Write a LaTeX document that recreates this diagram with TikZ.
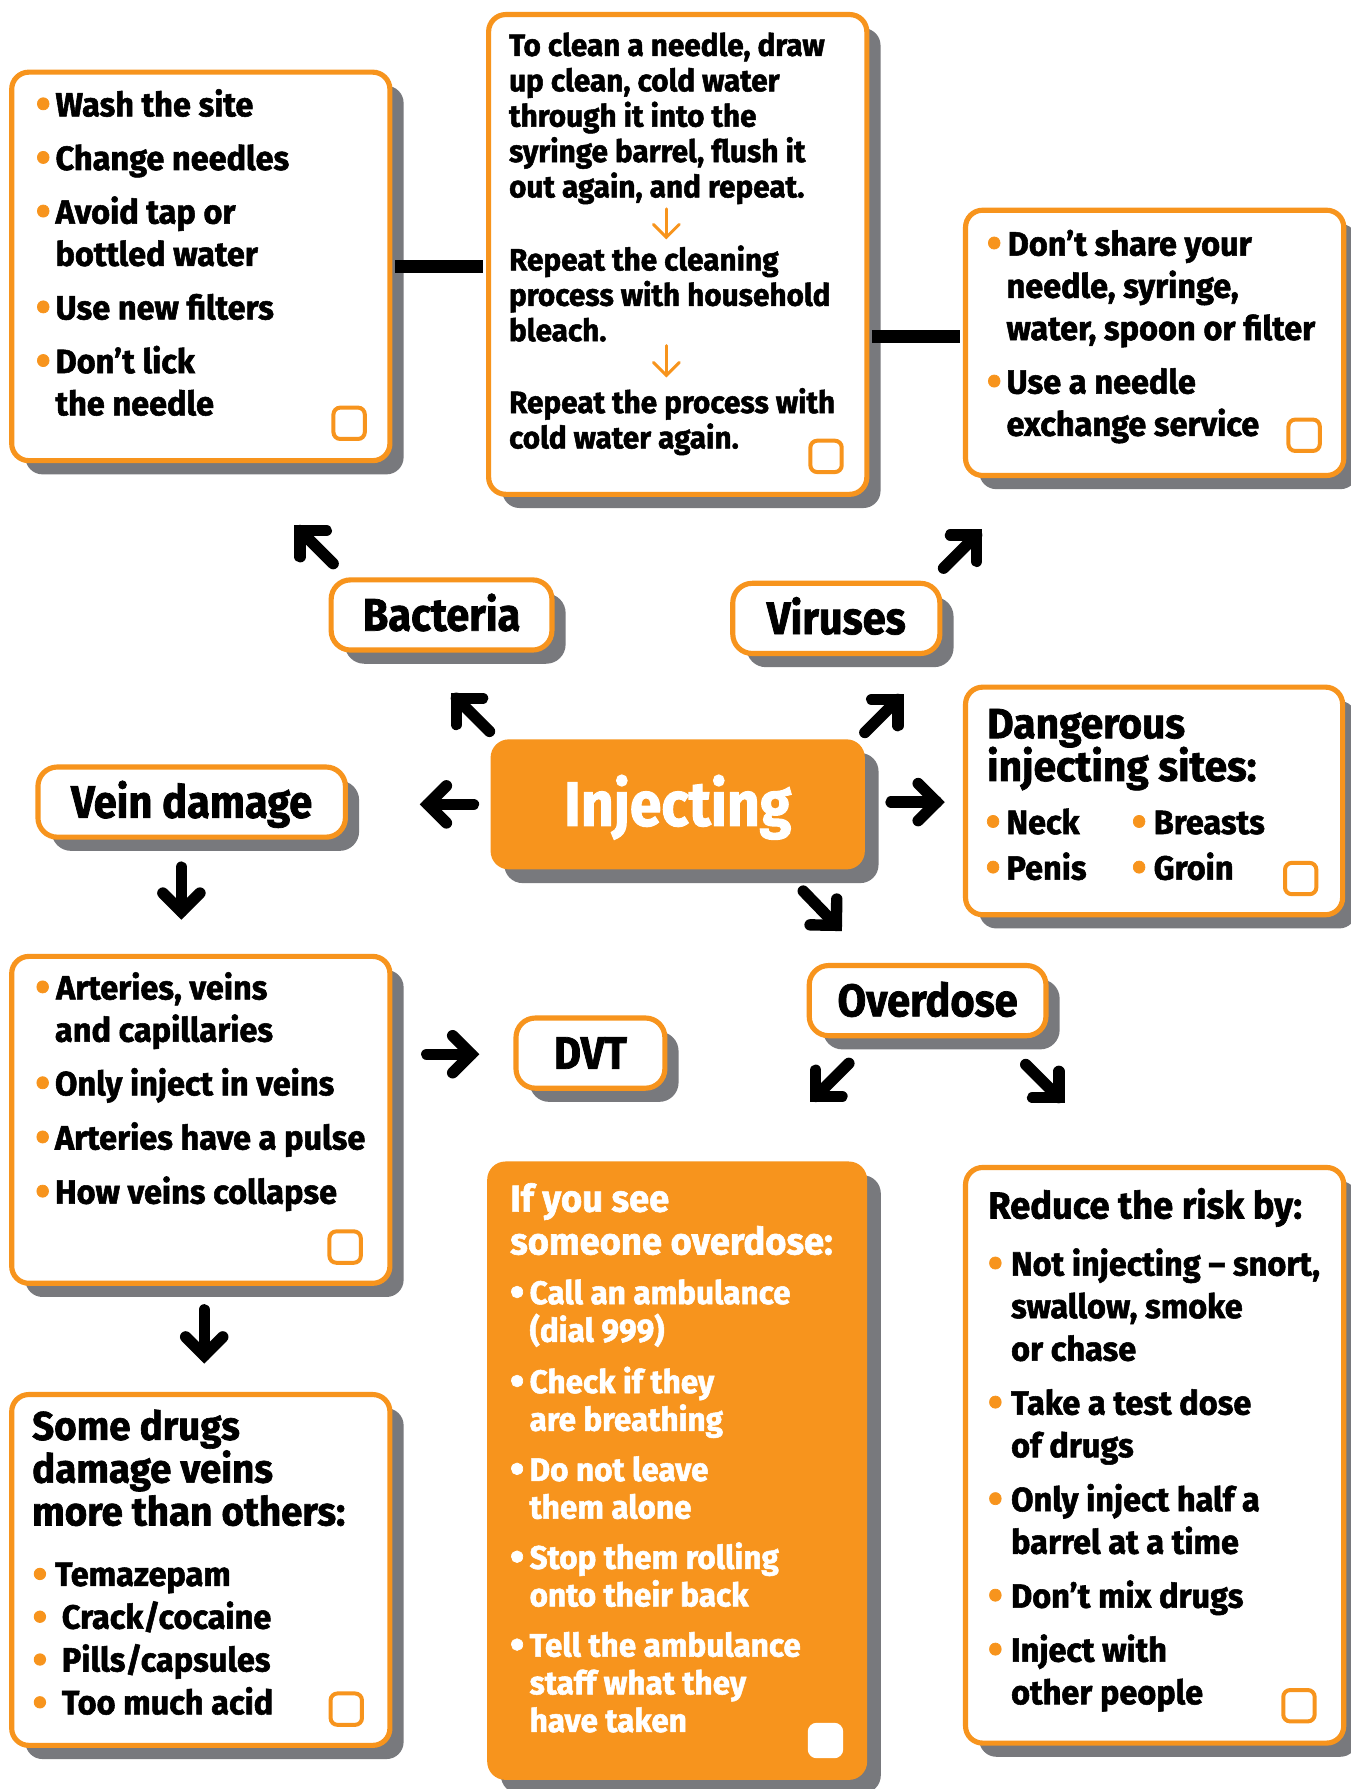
\documentclass[tikz,border=0pt]{standalone}
\usepackage{graphicx}
\usepackage{fontspec}
\setmainfont{Fira Sans}[FakeStretch=0.965, FakeBold=1.6]
\newfontfamily\labelfont{Fira Sans}[FakeStretch=0.91, FakeBold=1.6]
\usetikzlibrary{calc,fit,shadows}

\definecolor{brand}{RGB}{247,148,29}
\definecolor{shade}{RGB}{120,121,125}
\definecolor{ink}{RGB}{0,0,0}

% text blocks: a \vtop whose baseline is the first line's baseline
\newcommand\lines[1]{\vtop{\lineskiplimit=-100pt\lineskip=0pt #1}}
\newcommand\row[1]{\hbox{#1}}
\newcommand\itemgap[1]{\vskip#1pt}
% list bullet centred on the current point, text starting #2 further right
\newcommand\bl[2][brand]{\hbox to #2{\rlap{\hskip-5.2pt\raisebox{-2.1pt}{\scalebox{1.3}{\textcolor{#1}{\textbullet}}}}\hss}}

% fat black arrow: shaft plus mitred chevron
\newcommand\fatarrow[2]{%
  \draw[fatline] (#1) -- (#2);
  \draw[fatline, line join=miter] ($(#2)!23pt!45:(#1)$) -- (#2) -- ($(#2)!23pt!-45:(#1)$);}
% thin orange arrow inside the cleaning panel
\newcommand\thinarrow[2]{%
  \draw[thinline] (#1) -- (#2);
  \draw[thinline, line join=miter] ($(#2)!16pt!45:(#1)$) -- (#2) -- ($(#2)!16pt!-45:(#1)$);}

\tikzset{
  boxshadow/.style={general shadow={fill=shade, shadow xshift=12pt, shadow yshift=-12pt}},
  panel/.style={draw=brand, line width=4.5pt, fill=white, rounded corners=15pt,
    inner sep=0pt, boxshadow},
  solidpanel/.style={draw=none, fill=brand, rounded corners=16pt, inner sep=0pt, boxshadow},
  lbl/.style={draw=brand, line width=4.5pt, fill=white, rounded corners=17pt,
    inner sep=0pt, boxshadow, text=ink,
    font=\labelfont\bfseries\fontsize{40}{40}\selectfont, text height=27.5pt, text depth=0pt},
  chk/.style={draw=brand, line width=3.5pt, rounded corners=6pt, minimum size=27.5pt,
    inner sep=0pt},
  body/.style={anchor=base west, inner sep=0pt, text=ink,
    font=\bfseries\fontsize{29.5}{37}\selectfont},
  small/.style={anchor=base west, inner sep=0pt, text=ink,
    font=\bfseries\fontsize{27}{31}\selectfont},
  head/.style={anchor=base west, inner sep=0pt, text=ink,
    font=\bfseries\fontsize{#1}{37.5}\selectfont},
  dotmark/.style={fill=brand},
  fatline/.style={line width=10pt, ink, line cap=round},
  thinline/.style={line width=2.6pt, brand, line cap=round},
  bar/.style={line width=11pt, ink},
}

\begin{document}
\begin{tikzpicture}[x=1pt, y=-1pt]
\useasboundingbox (0,0) rectangle (1184,1568);
\fill[white] (0,0) rectangle (1184,1568);

% ---------- panels ----------
\node[panel, fit={(10.25,63.25) (341.75,403.75)}] (wash) {};
\node[panel, fit={(428.25,12.75) (759.75,433.25)}] (clean) {};
\node[panel, fit={(846.25,184.25) (1177.75,416.75)}] (share) {};
\node[panel, fit={(846.25,602.25) (1176.75,801.75)}] (sites) {};
\node[panel, fit={(10.25,838.25) (341.75,1124.75)}] (vessels) {};
\node[panel, fit={(10.25,1222.25) (341.75,1529.75)}] (drugs) {};
\node[panel, fit={(846.25,1023.25) (1177.75,1527.75)}] (reduce) {};
\node[solidpanel, fit={(427,1018) (760,1560)}] (help) {};

% ---------- labels ----------
\node[solidpanel, minimum width=328pt, minimum height=114pt, text=white,
  font=\labelfont\bfseries\fontsize{55}{55}\selectfont, text height=37.5pt, text depth=0pt]
  (inj) at (594,705) {Injecting};
\node[lbl, minimum width=269.5pt, minimum height=61.5pt] (vein) at (168,703) {Vein damage};
\node[lbl, minimum width=193.5pt, minimum height=61.5pt] (bact) at (387,539) {Bacteria};
\node[lbl, minimum width=181.5pt, minimum height=61.5pt] (vir) at (733,542) {Viruses};
\node[lbl, minimum width=207.5pt, minimum height=61.5pt] (od) at (813,877) {Overdose};
\node[lbl, minimum width=130.5pt, minimum height=61.5pt] (dvt) at (517.5,923) {DVT};

% ---------- bars joining the top panels ----------
\coordinate (barB) at (800,295);
\draw[bar] ([xshift=2.25pt]wash.east) -- ([xshift=-2.25pt]clean.west |- wash.east);
\draw[bar] ([xshift=2.25pt]clean.east |- barB) -- ([xshift=-2.25pt]share.west |- barB);

% ---------- panel texts ----------
\node[body] (washtxt) at (36.5,102) {\lines{%
  \row{\bl{12pt}Wash the site}\itemgap{10}%
  \row{\bl{12pt}Change needles}\itemgap{10}%
  \row{\bl{12pt}Avoid tap or}\row{\hskip12pt bottled water}\itemgap{10}%
  \row{\bl{12pt}Use new filters}\itemgap{10}%
  \row{\bl{12pt}Don’t lick}\row{\hskip12pt the needle}}};

\node[small] (cleantxt) at (446,49) {\lines{%
  \row{To clean a needle, draw}\row{up clean, cold water}\row{through it into the}%
  \row{syringe barrel, flush it}\row{out again, and repeat.}\itemgap{33}%
  \row{Repeat the cleaning}\row{process with household}\row{bleach.}\itemgap{32}%
  \row{Repeat the process with}\row{cold water again.}}};

\node[body] (sharetxt) at (870,224) {\lines{%
  \row{\bl{13pt}Don’t share your}\row{\hskip12pt needle, syringe,}\row{\hskip12pt water, spoon or filter}\itemgap{10}%
  \row{\bl{12pt}Use a needle}\row{\hskip12pt exchange service}}};

\node[head=37] (sitestitle) at (865,647) {\lines{\row{Dangerous}\row{injecting sites:}}};
\node[body, font=\bfseries\fontsize{29.5}{40}\selectfont] (sitesa) at (869,731)
  {\lines{\row{\bl{13pt}Neck}\row{\bl{13pt}Penis}}};
\node[body, font=\bfseries\fontsize{29.5}{40}\selectfont] (sitesb) at (997,731)
  {\lines{\row{\bl{14pt}Breasts}\row{\bl{14pt}Groin}}};

\node[body] (vesseltxt) at (36,876) {\lines{%
  \row{\bl{13pt}Arteries, veins}\row{\hskip12pt and capillaries}\itemgap{10}%
  \row{\bl{12pt}Only inject in veins}\itemgap{10.5}%
  \row{\bl{12pt}Arteries have a pulse}\itemgap{10.5}%
  \row{\bl{12pt}How veins collapse}}};

\node[head=35] (drugstitle) at (28,1262) {\lines{%
  \row{Some drugs}\row{damage veins}\row{more than others:}}};
\node[body, font=\bfseries\fontsize{29.5}{37.5}\selectfont] (drugstxt) at (35,1390) {\lines{%
  \row{\hskip13pt Temazepam}\row{\hskip19pt Crack/cocaine}%
  \row{\hskip19pt Pills/capsules}\row{\hskip19pt Too much acid}}};
\foreach \y in {1390,1427.5,1465,1502.5} {\fill[dotmark] (35,\y-10.5) circle (5.4pt);}

\node[head=33, text=white] (helptitle) at (447,1062) {\lines{%
  \row{If you see}\row{someone overdose:}}};
\node[body, text=white, font=\bfseries\fontsize{28.6}{33}\selectfont] (helptxt) at (452,1143) {\lines{%
  \row{\bl[white]{12pt}Call an ambulance}\row{\hskip12pt (dial 999)}\itemgap{12}%
  \row{\bl[white]{12pt}Check if they}\row{\hskip12pt are breathing}\itemgap{11}%
  \row{\bl[white]{12pt}Do not leave}\row{\hskip12pt them alone}\itemgap{11}%
  \row{\bl[white]{12pt}Stop them rolling}\row{\hskip12pt onto their back}\itemgap{11}%
  \row{\bl[white]{12pt}Tell the ambulance}\row{\hskip12pt staff what they}\row{\hskip12pt have taken}}};

\node[head=33] (reducetitle) at (866,1068) {\lines{\row{Reduce the risk by:}}};
\node[body, font=\bfseries\fontsize{29.5}{37.3}\selectfont] (reducetxt) at (871,1118) {\lines{%
  \row{\bl{15pt}Not injecting – snort,}\row{\hskip15pt swallow, smoke}\row{\hskip15pt or chase}\itemgap{10}%
  \row{\bl{15pt}Take a test dose}\row{\hskip15pt of drugs}\itemgap{10}%
  \row{\bl{15pt}Only inject half a}\row{\hskip15pt barrel at a time}\itemgap{10}%
  \row{\bl{15pt}Don’t mix drugs}\itemgap{10}%
  \row{\bl{15pt}Inject with}\row{\hskip15pt other people}}};

% ---------- tick boxes ----------
\node[chk] (chkwash) at (306,371) {};
\node[chk] (chkclean) at (724,400) {};
\node[chk] (chkshare) at (1143,381.5) {};
\node[chk] (chksites) at (1140,770) {};
\node[chk] (chkvessels) at (302.5,1093) {};
\node[chk] (chkdrugs) at (303.5,1498) {};
\node[chk, draw=white, fill=white] (chkhelp) at (723.5,1525.5) {};
\node[chk] (chkreduce) at (1138.5,1495) {};

% ---------- orange arrows in the cleaning panel ----------
\coordinate (s1s) at (584,183); \coordinate (s1t) at (584,208);
\coordinate (s2s) at (584,303); \coordinate (s2t) at (584,329);
\thinarrow{s1s}{s1t}
\thinarrow{s2s}{s2t}

% ---------- fat arrows between the boxes ----------
\coordinate (a1s) at (292,494);   \coordinate (a1t) at (263,465);
\coordinate (a2s) at (429,641);   \coordinate (a2t) at (400,612);
\coordinate (a3s) at (758,642);   \coordinate (a3t) at (787,613);
\coordinate (a4s) at (827,498);   \coordinate (a4t) at (856,469);
\coordinate (a5s) at (415,705);   \coordinate (a5t) at (375,705);
\coordinate (a6s) at (781,703);   \coordinate (a6t) at (821,703);
\coordinate (a7s) at (704,781);   \coordinate (a7t) at (733,811);
\coordinate (a8s) at (159,760);   \coordinate (a8t) at (159,799);
\coordinate (a9s) at (374,924);   \coordinate (a9t) at (413,924);
\coordinate (a10s) at (179,1148); \coordinate (a10t) at (179,1188);
\coordinate (a11s) at (744,932);  \coordinate (a11t) at (715,961);
\coordinate (a12s) at (899,933);  \coordinate (a12t) at (928,962);
\foreach \k in {1,...,12} {\fatarrow{a\k s}{a\k t}}

\end{tikzpicture}
\end{document}
